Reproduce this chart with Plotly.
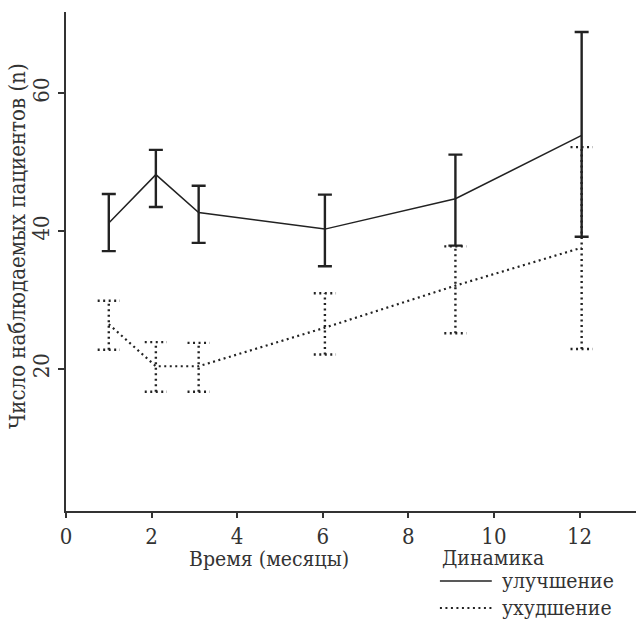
import plotly.graph_objects as go

# Observation times (months)
months = [1, 2.1, 3.1, 6.05, 9.1, 12.05]

# "улучшение" group: mean and interval bounds
improve_mean = [41.2, 48.2, 42.7, 40.3, 44.7, 53.9]
improve_low = [37.1, 43.5, 38.3, 34.9, 37.9, 39.2]
improve_high = [45.4, 51.8, 46.6, 45.3, 51.1, 68.9]

# "ухудшение" group: mean and interval bounds
worse_mean = [26.5, 20.4, 20.4, 26.0, 32.1, 37.6]
worse_low = [22.8, 16.7, 16.7, 22.1, 25.2, 22.9]
worse_high = [29.9, 23.9, 23.8, 31.0, 37.8, 52.2]

x_ticks = [0, 2, 4, 6, 8, 10, 12]
y_ticks = [20, 40, 60]
legend_title = "Динамика"
series_names = ["улучшение", "ухудшение"]

INK = "#222222"
TEXT = "#333333"
FONT = "DejaVu Serif Condensed"
DOT = "2px,3.5px"
CAP = 0.26  # half-width of dotted caps, in months

fig = go.Figure()

# solid series with native error bars
fig.add_trace(go.Scatter(
    x=months, y=improve_mean, mode="lines", name=series_names[0],
    line=dict(color=INK, width=1.5), showlegend=False,
    error_y=dict(
        type="data", symmetric=False,
        array=[h - m for h, m in zip(improve_high, improve_mean)],
        arrayminus=[m - l for m, l in zip(improve_mean, improve_low)],
        color=INK, thickness=2.4, width=7,
    ),
))

# dotted error bars built as line segments
ex, ey = [], []
for x, lo, hi in zip(months, worse_low, worse_high):
    ex += [x, x, None, x - CAP, x + CAP, None, x - CAP, x + CAP, None]
    ey += [lo, hi, None, lo, lo, None, hi, hi, None]
fig.add_trace(go.Scatter(
    x=ex, y=ey, mode="lines", showlegend=False, hoverinfo="skip",
    line=dict(color=INK, width=2.4, dash=DOT),
))

fig.add_trace(go.Scatter(
    x=months, y=worse_mean, mode="lines", name=series_names[1],
    line=dict(color=INK, width=2.2, dash=DOT), showlegend=False,
))

# key below the plot, to the right of the x title
key_rows = [(-0.1403, dict(color=INK, width=1.5)),
            (-0.1944, dict(color=INK, width=2.2, dash=DOT))]
shapes, notes = [], []
for (ky, style), name in zip(key_rows, series_names):
    shapes.append(dict(type="line", xref="paper", yref="paper",
                       x0=0.656, x1=0.747, y0=ky, y1=ky, line=style))
    notes.append(dict(text=name, xref="paper", yref="paper", x=0.761, y=ky,
                      xanchor="left", yanchor="middle", showarrow=False,
                      font=dict(size=21)))

fig.update_layout(
    width=638, height=622,
    margin=dict(l=66, r=2, t=12, b=111, autoexpand=False),
    paper_bgcolor="white", plot_bgcolor="white",
    font=dict(family=FONT, size=21, color=TEXT),
    showlegend=False,
    xaxis=dict(
        range=[0, 13.32], tickvals=x_ticks, ticks="outside", ticklen=5,
        tickwidth=1.5, tickcolor=TEXT, showline=True, linecolor=TEXT,
        linewidth=1.5, showgrid=False, zeroline=False,
        tickfont=dict(size=22),
    ),
    yaxis=dict(
        range=[-0.6, 71.8], tickvals=y_ticks, ticks="outside", ticklen=6,
        tickwidth=1.5, tickcolor=TEXT, showline=True, linecolor=TEXT,
        linewidth=1.5, showgrid=False, zeroline=False, tickangle=-90,
        tickfont=dict(size=22),
    ),
    shapes=shapes,
    annotations=notes + [
        dict(text=legend_title, xref="paper", yref="paper",
             x=0.656, y=-0.094, xanchor="left", yanchor="middle",
             showarrow=False, font=dict(size=21)),
        dict(text="Время (месяцы)", xref="paper", yref="paper",
             x=0.356, y=-0.068, xanchor="center", yanchor="top",
             showarrow=False, font=dict(size=21)),
        dict(text="Число наблюдаемых пациентов (n)", xref="paper",
             yref="paper", x=-0.086, y=0.531, xanchor="center",
             yanchor="middle", textangle=-90, showarrow=False,
             font=dict(size=22)),
    ],
)

fig.write_html("out.html")
